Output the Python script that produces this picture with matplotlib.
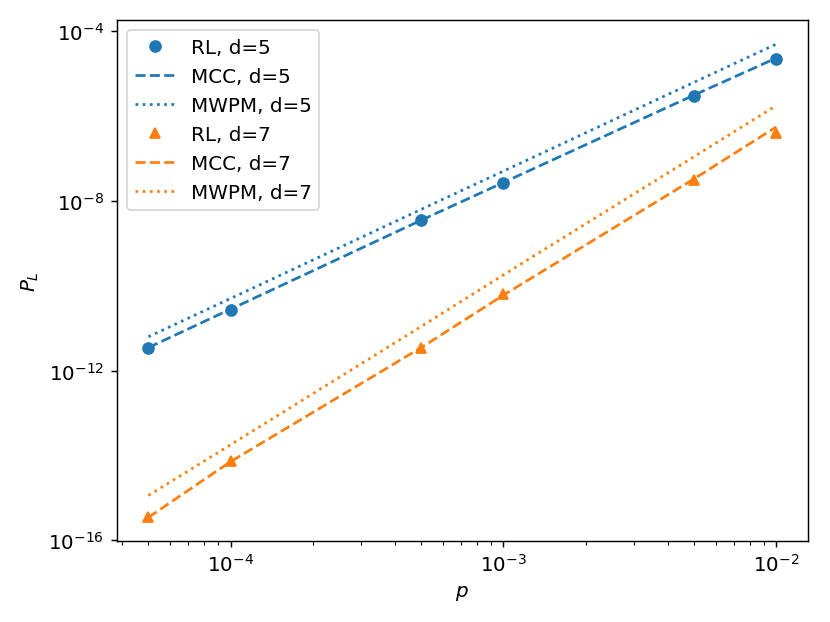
import matplotlib
matplotlib.use('Agg')
import matplotlib.pyplot as plt
from matplotlib.ticker import NullLocator

# physical error rates
p = [5e-5, 1e-4, 5e-4, 1e-3, 5e-3, 1e-2]

# logical error rates, d=5
rl_d5 = [3.5e-12, 2.75e-11, 3.6e-9, 2.6e-8, 3.0e-6, 2.2e-5]
mcc_d5 = [3.5e-12, 2.8e-11, 3.5e-9, 2.7e-8, 3.1e-6, 2.3e-5]
mwpm_d5 = [6.3e-12, 5.0e-11, 6.3e-9, 5.0e-8, 6.2e-6, 4.9e-5]

# logical error rates, d=7
rl_d7 = [3.5e-16, 7.4e-15, 3.4e-12, 6.3e-11, 3.1e-8, 4.0e-7]
mcc_d7 = [3.5e-16, 7.2e-15, 3.5e-12, 6.0e-11, 3.3e-8, 5.5e-7]
mwpm_d7 = [1.15e-15, 1.8e-14, 1.1e-11, 1.8e-10, 1.1e-7, 1.75e-6]

y_ticks = [1e-16, 1e-12, 1e-8, 1e-4]

plt.rcParams['font.size'] = 11

fig, ax = plt.subplots(figsize=(6.385, 4.79), dpi=130)
fig.subplots_adjust(left=0.141, right=0.973, top=0.966, bottom=0.130)

ax.plot(p, rl_d5, 'o', color='C0', label='RL, d=5')
ax.plot(p, mcc_d5, '--', color='C0', label='MCC, d=5')
ax.plot(p, mwpm_d5, ':', color='C0', label='MWPM, d=5')
ax.plot(p, rl_d7, '^', color='C1', label='RL, d=7')
ax.plot(p, mcc_d7, '--', color='C1', label='MCC, d=7')
ax.plot(p, mwpm_d7, ':', color='C1', label='MWPM, d=7')

ax.set_xscale('log')
ax.set_yscale('log')
ax.set_yticks(y_ticks)
ax.yaxis.set_minor_locator(NullLocator())
ax.set_xlabel('$p$')
ax.set_ylabel('$P_L$')
ax.legend(loc='upper left')

fig.savefig('out.png')
